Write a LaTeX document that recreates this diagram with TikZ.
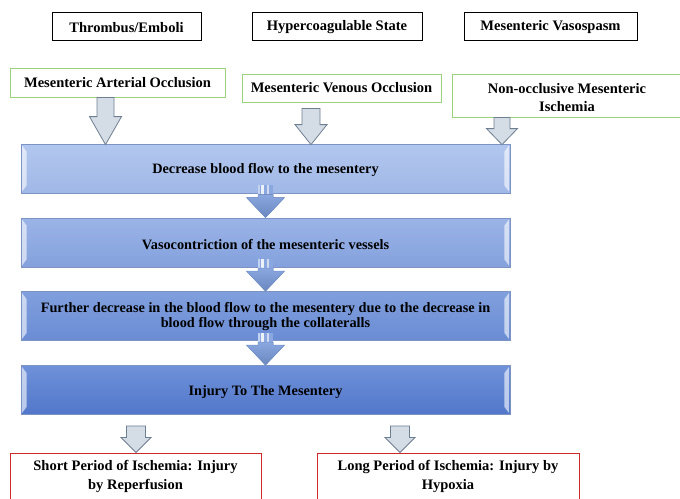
\documentclass[tikz,border=0pt]{standalone}
\usepackage{fontspec}
\setmainfont{Liberation Serif}
\usetikzlibrary{calc}
\definecolor{grnb}{HTML}{9CD27C}
\definecolor{redb}{HTML}{CC2929}
\definecolor{garrf}{HTML}{D4DCE6}
\definecolor{garrd}{HTML}{6F7F92}
\definecolor{bbord}{HTML}{7D93C4}
\definecolor{barrf}{HTML}{8AA7E0}
\definecolor{barrd}{HTML}{7393CF}
\definecolor{bat}{HTML}{B2C7EE}
\definecolor{bab}{HTML}{A0B8E7}
\definecolor{bbt}{HTML}{9BB4E7}
\definecolor{bbb}{HTML}{84A1DD}
\definecolor{bct}{HTML}{809FDD}
\definecolor{bcb}{HTML}{6A8CD4}
\definecolor{bdt}{HTML}{6F91D9}
\definecolor{bdb}{HTML}{5277CA}
\newcommand{\garr}[5]{%
  \filldraw[garrow] let \p1=#1, \p2=#2 in
    (\x1-#3pt,\y1) -- (\x1+#3pt,\y1) -- (\x1+#3pt,\y2+#5pt) -- (\x1+#4pt,\y2+#5pt)
    -- (\x1,\y2) -- (\x1-#4pt,\y2+#5pt) -- (\x1-#3pt,\y2+#5pt) -- cycle;}
\newcommand{\barr}[2]{%
  \fill[barrf] let \p1=#1, \p2=#2 in (\x1-7.5pt,\y1+8pt) rectangle (\x1+7.5pt,\y2+19pt);
  \fill[white,opacity=0.85] let \p1=#1, \p2=#2 in (\x1-4.5pt,\y1+8pt) rectangle (\x1-2pt,\y2+19pt);
  \fill[white,opacity=0.6] let \p1=#1, \p2=#2 in (\x1+1.5pt,\y1+8pt) rectangle (\x1+3.5pt,\y2+19pt);
  \fill[white,opacity=0.5] let \p1=#1, \p2=#2 in (\x1-7.5pt,\y1+8pt) rectangle (\x1-6pt,\y2+19pt);
  \filldraw[top color=barrf, bottom color=barrd!92!black, draw=barrd, line width=0.5pt]
    let \p1=#1, \p2=#2 in (\x1-19pt,\y2+20pt) -- (\x1-7.5pt,\y2+20pt) -- (\x1-7.5pt,\y2+23pt)
    -- (\x1+7.5pt,\y2+23pt) -- (\x1+7.5pt,\y2+20pt) -- (\x1+19pt,\y2+20pt) -- (\x1,\y2) -- cycle;}
\newcommand{\bevel}[1]{%
  \fill[white,opacity=0.6] ([shift={(1.5pt,-2pt)}]#1.north west) -- ([shift={(6pt,-8pt)}]#1.north west)
    -- ([shift={(6pt,8pt)}]#1.south west) -- ([shift={(1.5pt,2pt)}]#1.south west) -- cycle;
  \fill[white,opacity=0.6] ([shift={(-1.5pt,-2pt)}]#1.north east) -- ([shift={(-6pt,-8pt)}]#1.north east)
    -- ([shift={(-6pt,8pt)}]#1.south east) -- ([shift={(-1.5pt,2pt)}]#1.south east) -- cycle;}
\tikzset{
  txt/.style={font=\fontsize{14.5}{18}\selectfont\bfseries, align=center, inner sep=0pt},
  topbox/.style={draw=black, line width=0.9pt, fill=white, minimum height=28pt, inner sep=0pt},
  grnbox/.style={draw=grnb, line width=1pt, fill=white, inner sep=0pt},
  redbox/.style={draw=redb, line width=1pt, fill=white, minimum height=47pt, inner sep=0pt},
  bluebox/.style={draw=bbord, line width=0.8pt, minimum width=489pt, minimum height=49pt, inner sep=0pt},
  bluetxt/.style={txt, font=\fontsize{14.3}{14.8}\selectfont\bfseries},
  garrow/.style={fill=garrf, draw=garrd, line width=0.8pt, line join=miter},
}
\begin{document}
\begin{tikzpicture}[x=1pt,y=-1pt]
\clip (0,0) rectangle (680,498);
\fill[white] (0,0) rectangle (680,498);
% causes
\node[topbox, minimum width=149pt] (tb) at (126.5,26) {};
\node[topbox, minimum width=170pt] (hs) at (337,26) {};
\node[topbox, minimum width=173pt] (mv) at (550.5,26) {};
\node[txt, yshift=-1.5pt] (tbt) at (tb.center) {Thrombus/Emboli};
\node[txt, yshift=-1.5pt] (hst) at (hs.center) {Hypercoagulable State};
\node[txt, yshift=-1.5pt] (mvt) at (mv.center) {Mesenteric Vasospasm};
% types
\node[grnbox, minimum width=215pt, minimum height=29pt] (ao) at (117.5,82.5) {};
\node[grnbox, minimum width=199pt, minimum height=28pt] (vo) at (341.5,88) {};
\node[grnbox, minimum width=230pt, minimum height=43pt] (nm) at (567,95.5) {};
\node[txt] (aot) at (ao.center) {Mesenteric Arterial Occlusion};
\node[txt] (vot) at (vo.center) {Mesenteric Venous Occlusion};
\node[txt, yshift=-2.5pt] (nmt) at (nm.center) {Non-occlusive Mesenteric\\Ischemia};
% chain boxes
\node[bluebox, top color=bat, bottom color=bab] (b1) at (265.5,168.5) {};
\node[bluebox, top color=bbt, bottom color=bbb] (b2) at (265.5,242.5) {};
\node[bluebox, top color=bct, bottom color=bcb] (b3) at (265.5,316) {};
\node[bluebox, top color=bdt, bottom color=bdb] (b4) at (265.5,390) {};
\bevel{b1}\bevel{b2}\bevel{b3}\bevel{b4}
\node[bluetxt, yshift=-2pt] (t1) at (b1.center) {Decrease blood flow to the mesentery};
\node[bluetxt, yshift=-2pt] (t2) at (b2.center) {Vasocontriction of the mesenteric vessels};
\node[bluetxt, yshift=-0.5pt] (t3) at (b3.center) {Further decrease in the blood flow to the mesentery due to the decrease in\\blood flow through the collateralls};
\node[bluetxt, yshift=-2pt] (t4) at (b4.center) {Injury To The Mesentery};
% outcomes
\node[redbox, minimum width=251pt] (r1) at (135.5,476.5) {};
\node[redbox, minimum width=262pt] (r2) at (448,476.5) {};
\node[txt, font=\fontsize{14.5}{19.5}\selectfont\bfseries] (r1t) at (r1.center) {Short Period of Ischemia: Injury\\by Reperfusion};
\node[txt, font=\fontsize{14.5}{19.5}\selectfont\bfseries] (r2t) at (r2.center) {Long Period of Ischemia: Injury by\\Hypoxia};
% gray arrows
\garr{([xshift=-12pt]ao.south)}{([yshift=-1pt]b1.north)}{8.5}{16}{28}
\garr{([shift={(-30.5pt,-6pt)}]vo.south)}{([yshift=-1pt]b1.north)}{9}{16}{20}
\garr{([xshift=-65pt]nm.south)}{([yshift=-1pt]b1.north)}{8}{15.5}{16}
\garr{([shift={(-129.5pt,-11pt)}]b4.south)}{(r1.north)}{9.5}{15}{15}
\garr{([shift={(134.5pt,-11pt)}]b4.south)}{(r2.north)}{9.5}{15}{15}
% blue arrows
\barr{(b1.south)}{(b2.north)}
\barr{(b2.south)}{(b3.north)}
\barr{(b3.south)}{(b4.north)}
\end{tikzpicture}
\end{document}
